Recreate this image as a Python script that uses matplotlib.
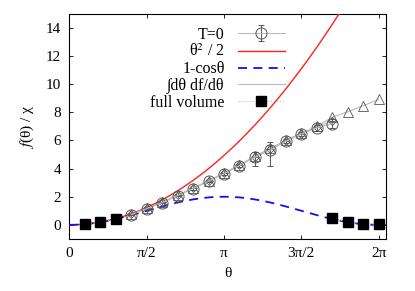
import numpy as np
import matplotlib
matplotlib.use("Agg")
import matplotlib.pyplot as plt

# theta grid of the lattice points: k * pi / 10
k_mid = np.arange(4, 18)          # T=0 points
k_tri = np.arange(4, 21)          # integral points
k_full_left = np.array([1, 2, 3])
k_full_right = np.array([17, 18, 19, 20])

# T=0 (circles with error bars)
t0_vals = [0.72, 1.15, 1.57, 2.08, 2.57, 3.10, 3.63, 4.22, 4.82, 5.32, 5.94, 6.46, 6.90, 7.20]
t0_err_lo = [0.05, 0.05, 0.05, 0.05, 0.06, 0.06, 0.07, 0.08, 0.65, 1.15, 0.15, 0.15, 0.2, 0.3]
t0_err_hi = [0.05, 0.05, 0.05, 0.05, 0.06, 0.06, 0.07, 0.08, 0.35, 0.55, 0.15, 0.15, 0.2, 0.3]

# second overlapping estimate (diamonds)
dia_vals = [0.74, 1.17, 1.60, 2.10, 2.60, 3.12, 3.66, 4.25, 4.85, 5.38, 5.97, 6.49, 6.95, 7.40]

# integral of df/dtheta (triangles)
tri_vals = [0.75, 1.18, 1.61, 2.11, 2.61, 3.15, 3.68, 4.27, 4.88, 5.45, 6.03, 6.52, 7.00, 7.66,
            8.04, 8.47, 8.92]

# full volume (squares)
full_left = [0.05, 0.19, 0.42]
full_right = [0.46, 0.20, 0.06, 0.03]

xtick_vals = [0, np.pi / 2, np.pi, 3 * np.pi / 2, 2 * np.pi]
xtick_labels = ["0", "π/2", "π", "3π/2", "2π"]
ytick_vals = [0, 2, 4, 6, 8, 10, 12, 14]


def main():
    plt.rcParams["font.family"] = ["Liberation Serif", "DejaVu Serif"]
    plt.rcParams["mathtext.fontset"] = "stix"
    plt.rcParams["font.size"] = 11

    fig = plt.figure(figsize=(4.15, 2.91), dpi=100)
    ax = fig.add_axes([0.167, 0.179, 0.764, 0.773])

    th = np.linspace(0, 6.44, 400)
    gray = "#555555"
    lgray = "#bbbbbb"

    x_mid = k_mid * np.pi / 10
    x_tri = k_tri * np.pi / 10

    h_t0 = ax.errorbar(x_mid, t0_vals, yerr=[t0_err_lo, t0_err_hi], fmt="-o", color=lgray,
                       ecolor=gray, elinewidth=0.7, capsize=2, capthick=0.7, lw=0.8,
                       mfc="none", mec=gray, mew=0.7, ms=8, label="T=0", zorder=4)
    h_sq, = ax.plot(th, th ** 2 / 2, color="#ff2020", lw=1.0, label="θ$^2$ / 2", zorder=3)
    h_cos, = ax.plot(th, 1 - np.cos(th), color="#1010ee", lw=1.3, ls=(0, (5, 3.5)),
                     label="1-cosθ", zorder=3)
    h_int, = ax.plot(x_tri, tri_vals, color=lgray, lw=0.8, label="∫dθ df/dθ", zorder=2)
    ax.plot(x_tri, tri_vals, ls="none", marker="^", mfc="none", mec=gray, mew=0.6, ms=7,
            zorder=4)
    ax.plot(x_mid, dia_vals, color=lgray, lw=0.8, marker="D", mfc="none", mec=gray,
            mew=0.6, ms=4.5, zorder=4)
    ax.plot(x_mid, dia_vals, ls="none", marker="+", color=gray, mew=0.6, ms=5, zorder=4)

    h_full, = ax.plot(k_full_left * np.pi / 10, full_left, ls=":", color=lgray, lw=0.8,
                      marker="s", mfc="black", mec="black", ms=7.5, label="full volume",
                      zorder=5)
    ax.plot(k_full_right * np.pi / 10, full_right, ls=":", color=lgray, lw=0.8, marker="s",
            mfc="black", mec="black", ms=7.5, zorder=5)

    ax.set_xlim(0, 6.44)
    ax.set_ylim(-1, 15)
    ax.set_xticks(xtick_vals)
    ax.set_xticklabels(xtick_labels)
    ax.set_yticks(ytick_vals)
    ax.tick_params(direction="in", top=True, right=True, length=3, width=0.6, pad=6)
    ax.set_xlabel("θ", labelpad=5)
    ax.set_ylabel("$f$(θ) / χ", labelpad=7)

    ax.legend([h_t0, h_sq, h_cos, h_int, h_full],
              ["T=0", "θ$^2$ / 2", "1-cosθ", "∫dθ df/dθ", "full volume"],
              loc="upper right", bbox_to_anchor=(0.709, 0.985), frameon=False,
              markerfirst=False, handlelength=2.9, handletextpad=0.85,
              labelspacing=0.05, borderaxespad=0.2, fontsize=11.5)

    fig.savefig("out.png", dpi=100)


if __name__ == "__main__":
    main()
